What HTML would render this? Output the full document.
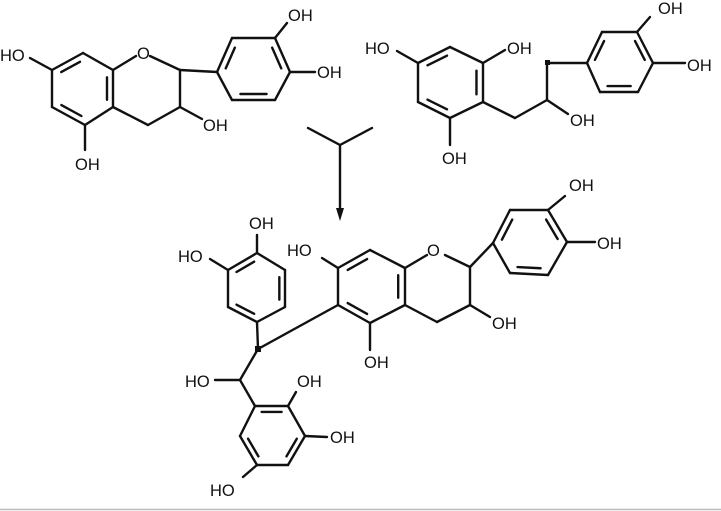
<!DOCTYPE html>
<html><head><meta charset="utf-8"><style>
html,body{margin:0;padding:0;background:#fff;width:721px;height:511px;overflow:hidden}
svg text{font-family:"Liberation Sans",sans-serif;font-size:16.5px;fill:#111}
</style></head><body>
<svg id="s" width="721" height="511" viewBox="0 0 721 511" xmlns="http://www.w3.org/2000/svg">
<g id="b" stroke="#111" stroke-width="2.4" fill="none" stroke-linecap="round"></g>
<line x1="0" y1="509.5" x2="721" y2="509.5" stroke="#bbb" stroke-width="1.5"/>
<text x="0" y="61">HO</text>
<text x="137" y="59">O</text>
<text x="203" y="131">OH</text>
<text x="75" y="170">OH</text>
<text x="288" y="21">OH</text>
<text x="317" y="78">OH</text>
<text x="365" y="54">HO</text>
<text x="507" y="54">OH</text>
<text x="442" y="164">OH</text>
<text x="570" y="126">OH</text>
<text x="658" y="14">OH</text>
<text x="687" y="71">OH</text>
<text x="249" y="229">OH</text>
<text x="178" y="262">HO</text>
<text x="287" y="256">HO</text>
<text x="427" y="256">O</text>
<text x="364" y="368">OH</text>
<text x="492" y="329">OH</text>
<text x="569" y="191">OH</text>
<text x="597" y="249">OH</text>
<text x="185" y="387">HO</text>
<text x="297" y="387">OH</text>
<text x="330" y="443">OH</text>
<text x="210" y="496">HO</text>
<rect x="545" y="60" width="5" height="5" fill="#111"/>
<rect x="255" y="346" width="6" height="6" fill="#111"/>
<polygon points="336,208 344,208 340,221" fill="#111"/>
</svg>
<script>
var g=document.getElementById('b');
function L(a,b,c,d){var l=document.createElementNS('http://www.w3.org/2000/svg','line');l.setAttribute('x1',a);l.setAttribute('y1',b);l.setAttribute('x2',c);l.setAttribute('y2',d);g.appendChild(l);}
function ring(p,dbl){var cx=0,cy=0;p.forEach(function(q){cx+=q[0];cy+=q[1]});cx/=p.length;cy/=p.length;
for(var i=0;i<p.length;i++){var a=p[i],b=p[(i+1)%p.length];L(a[0],a[1],b[0],b[1]);
if(dbl.indexOf(i)>=0){var f=0.2;var ax=a[0]+(cx-a[0])*f,ay=a[1]+(cy-a[1])*f,bx=b[0]+(cx-b[0])*f,by=b[1]+(cy-b[1])*f;
var t=0.12;L(ax+(bx-ax)*t,ay+(by-ay)*t,bx+(ax-bx)*t,by+(ay-by)*t);}}}
ring([[83,53],[113,70],[113,107],[85,125],[52,107],[52,70]],[1,3,5]);
L(113,70,136,56);L(150,56,180,70);L(180,70,180,107);L(180,107,148,125);L(148,125,113,107);
L(180,107,202,119);L(52,70,30,58);L(85,125,85,150);
ring([[217,72],[232,38],[275,38],[290,72],[275,100],[232,100]],[0,2,4]);
L(180,70,217,72);L(275,38,287,23);L(290,72,315,72);
ring([[450,47],[483,63],[483,102],[450,118],[418,102],[418,63]],[1,3,5]);
L(418,63,397,51);L(483,63,505,50);L(450,118,450,145);
L(483,102,515,118);L(515,118,547,100);L(547,100,547,63);L(547,63,587,63);L(547,100,568,114);
ring([[587,63],[602,32],[637,32],[653,63],[638,92],[600,92]],[0,2,4]);
L(637,32,650,17);L(653,63,685,63);
L(308,128,340,145);L(372,128,340,145);L(340,145,340,210);
ring([[257,253],[285,270],[285,307],[257,322],[228,307],[228,270]],[1,3,5]);
L(257,253,257,235);L(228,270,210,259);L(257,322,258,349);L(258,349,338,305);
L(258,349,240,380);L(240,380,215,380);L(240,380,255,406);
ring([[255,406],[288,406],[305,436],[288,465],[257,465],[240,436]],[0,2,4]);
L(288,406,296,392);L(305,436,327,437);L(257,465,243,477);
ring([[370,250],[405,268],[405,305],[370,323],[338,305],[338,268]],[1,3,5]);
L(338,268,322,258);L(370,323,370,350);
L(405,268,427,255);L(445,255,470,267);L(470,267,470,305);L(470,305,437,322);L(437,322,405,305);
L(470,305,490,317);L(470,267,493,243);
ring([[493,243],[510,210],[548,210],[567,242],[548,275],[510,273]],[0,2,4]);
L(548,210,565,196);L(567,242,595,242);
</script>
</body></html>
